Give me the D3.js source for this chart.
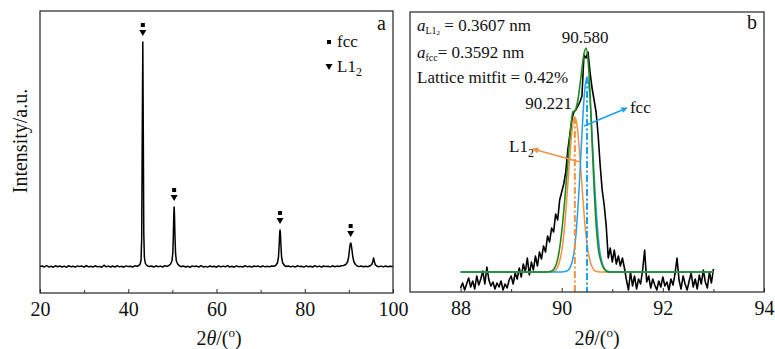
<!DOCTYPE html>
<html>
<head>
<meta charset="utf-8">
<script src="https://cdn.jsdelivr.net/npm/d3@7/dist/d3.min.js"></script>
<style>
  body { margin: 0; background: #fff; }
  text { font-family: "Liberation Serif", "Times New Roman", serif; fill: #111; }
</style>
</head>
<body>
<svg id="chart" width="775" height="349"></svg>
<script>
// ---- panel a : full XRD pattern (2theta, intensity a.u.)
const patternA = [
  [20,26.5],[20.5,27],[21,26],[21.5,27.5],[22,26],[22.5,26.8],[23,25.8],[23.5,27.2],[24,26.3],[24.5,27],
  [25,26],[25.5,26.9],[26,25.7],[26.5,27.3],[27,26.2],[27.5,26.8],[28,25.9],[28.5,27.1],[29,26.4],[29.5,26.9],
  [30,25.8],[30.5,27.4],[31,26.1],[31.5,26.7],[32,26],[32.5,27.2],[33,26.3],[33.5,26.6],[34,25.7],[34.5,27.8],
  [35,26.2],[35.5,26.9],[36,26],[36.5,27],[37,25.9],[37.5,27.3],[38,26.1],[38.5,26.8],[39,25.8],[39.5,27.1],
  [40,26.4],[40.5,26.7],[41,26],[41.5,27.2],[42,26.8],
  [42.4,27.5],[42.7,29],[42.9,33],[43.05,55],[43.15,140],[43.3,251],[43.42,150],[43.52,60],[43.65,36],[43.85,30],[44.1,28],[44.4,27],
  [44.8,26.5],[45.3,27],[45.8,26],[46.3,27.2],[46.8,26.3],[47.3,26.9],[47.8,26],[48.3,27.3],[48.8,26.6],[49.2,27.5],
  [49.6,29],[49.9,32],[50.1,40],[50.22,58],[50.32,78],[50.4,86],[50.48,78],[50.58,58],[50.72,40],[50.9,32],[51.2,29],[51.5,27.5],
  [52,26.3],[52.5,27],[53,26],[53.5,26.8],[54,25.7],[54.5,27.1],[55,26.4],[55.5,26.9],[56,26],[56.5,27.3],
  [57,26.1],[57.5,26.6],[58,25.9],[58.5,27],[59,26.3],[59.5,26.8],[60,25.8],[60.5,27.2],[61,26.1],[61.5,26.9],
  [62,26.2],[62.5,27.4],[63,26],[63.5,26.7],[64,25.8],[64.5,27.1],[65,26.3],[65.5,26.6],[66,26],[66.5,27.3],
  [67,26.2],[67.5,26.8],[68,25.9],[68.5,27],[69,26.4],[69.5,26.9],[70,26],[70.5,27.2],[71,26.1],[71.5,26.7],
  [72,26.3],[72.5,27],[73,26.8],
  [73.4,27.5],[73.8,30],[74.05,36],[74.2,48],[74.32,60],[74.4,63],[74.48,60],[74.6,48],[74.75,36],[75,30],[75.4,27.5],
  [75.8,26.5],[76.3,27],[76.8,26.1],[77.3,26.9],[77.8,26],[78.3,27.2],[78.8,26.4],[79.3,26.7],[79.8,25.9],[80.3,27.1],
  [80.8,26.3],[81.3,26.8],[81.8,26],[82.3,27.3],[82.8,26.2],[83.3,26.9],[83.8,26],[84.3,27],[84.8,26.4],[85.3,26.8],
  [85.8,26.1],[86.3,27.2],[86.8,26.3],[87.3,26.9],[87.8,26.5],[88.3,27.2],[88.8,27.5],
  [89.3,28.5],[89.7,31],[89.95,36],[90.15,44],[90.3,49],[90.42,50],[90.55,48],[90.7,43],[90.9,36],[91.15,31],[91.5,28.5],[91.9,27],
  [92.3,26.4],[92.8,27],[93.3,26.2],[93.8,26.8],[94.3,26.3],[94.8,27.2],
  [95.2,28.5],[95.45,32],[95.6,35],[95.75,32],[95.95,28.5],[96.3,27],
  [96.8,26.2],[97.3,26.9],[97.8,26.1],[98.3,27],[98.8,26.3],[99.3,26.8],[100,26.5]
];
const peakTheta = [43.3, 50.4, 74.4, 90.4];
const peakTop = [251, 86, 63, 50];
const ticksA = [20, 40, 60, 80, 100];
const minorA = [30, 50, 70, 90];

// ---- panel b : the (311)/(222) region, raw scan + fitted peaks
const scanStart = 88, scanStep = 0.04;
const scanB = [
  4,9,2,8,14,5,11,3,16,7, 13,21,8,25,12,6,10,3,9,5,
  11,2,8,4,12,16,8,19,13,24, 15,28,20,34,17,30,22,36,26,40,
  33,46,40,56,50,64,60,78,72,92, 100,108,120,142,157,172,180,182,186,190,
  196,237,234,240,220,204,192,180,157,127, 102,87,66,34,44,30,42,28,36,26,
  34,24,12,2,20,6,16,3,13,8, 22,42,10,16,4,13,7,2,11,5,
  15,6,10,2,13,7,18,34,12,3, 16,8,2,11,19,5,13,3,17,8,
  22,10,4,20,9,23
];
const fitTotal = [
  [88,20],[89.7,20],[89.8,21],[89.88,26],[89.94,38],[90,60],[90.06,92],[90.12,130],[90.18,165],[90.22,180],
  [90.27,182],[90.32,192],[90.38,215],[90.44,238],[90.48,244],[90.52,232],[90.56,200],[90.6,150],[90.64,105],
  [90.68,68],[90.72,45],[90.78,30],[90.84,23],[90.92,20],[93,20]
];
const fitL12 = [
  [88,20],[89.76,20],[89.86,21],[89.91,24],[89.96,31],[90.01,44],[90.06,67],[90.11,100],[90.16,135],[90.21,164],
  [90.26,175],[90.31,164],[90.36,135],[90.41,100],[90.46,67],[90.51,44],[90.56,31],[90.61,24],[90.66,21],[90.76,20],[93,20]
];
const fitFcc = [
  [88,20],[90.0,20],[90.1,21],[90.15,23],[90.2,29],[90.25,42],[90.3,69],[90.35,109],[90.4,158],[90.45,199],
  [90.5,215],[90.55,199],[90.6,158],[90.65,109],[90.7,69],[90.75,42],[90.8,29],[90.85,23],[90.9,21],[91,20],[93,20]
];
const centreL12 = [90.26, 175], centreFcc = [90.50, 215];
const arrowFcc = [[90.44, 166], [91.29, 184]];
const arrowL12 = [[90.36, 130], [89.43, 143]];
const ticksB = [88, 90, 92, 94];
const minorB = [89, 91, 93];

const orange = '#f5913e', blue = '#1ea0f0', green = '#22881a';
const svg = d3.select('#chart');

const panelA = { left: 40, top: 11, right: 393, bottom: 293 };
const panelB = { left: 410, top: 12, right: 764, bottom: 292 };

const xA = d3.scaleLinear().domain([20, 100]).range([panelA.left, panelA.right]);
const yA = d3.scaleLinear().domain([0, 282]).range([panelA.bottom, panelA.top]);
const xB = d3.scaleLinear().domain([87, 94]).range([panelB.left, panelB.right]);
const yB = d3.scaleLinear().domain([0, 280]).range([panelB.bottom, panelB.top]);

const defs = svg.append('defs');
function clip(id, p) {
  defs.append('clipPath').attr('id', id).append('rect')
    .attr('x', p.left).attr('y', p.top).attr('width', p.right - p.left).attr('height', p.bottom - p.top);
}
clip('clipA', panelA);
clip('clipB', panelB);

function arrowHead(id, col) {
  defs.append('marker').attr('id', id).attr('viewBox', '0 0 10 10')
    .attr('refX', 9).attr('refY', 5).attr('markerWidth', 7).attr('markerHeight', 6)
    .attr('markerUnits', 'userSpaceOnUse').attr('orient', 'auto')
    .append('path').attr('d', 'M0,0L10,5L0,10z').attr('fill', col);
}
arrowHead('headBlue', blue);
arrowHead('headOrange', orange);

function drawAxis(p, x, major, minor) {
  const g = svg.append('g').attr('transform', `translate(0,${p.bottom})`);
  g.call(d3.axisBottom(x).tickValues(major).tickFormat(d3.format('d'))
    .tickSizeInner(-4).tickSizeOuter(0).tickPadding(9));
  g.select('.domain').remove();
  g.selectAll('line').attr('stroke', '#333');
  g.selectAll('text').attr('font-size', 20).attr('font-family', '"Liberation Serif", serif').attr('fill', '#111');
  const m = svg.append('g').attr('transform', `translate(0,${p.bottom})`);
  m.call(d3.axisBottom(x).tickValues(minor).tickSizeInner(-3).tickSizeOuter(0).tickFormat(''));
  m.select('.domain').remove();
  m.selectAll('line').attr('stroke', '#333');
}

function frame(p) {
  svg.append('rect').attr('x', p.left).attr('y', p.top)
    .attr('width', p.right - p.left).attr('height', p.bottom - p.top)
    .attr('fill', 'none').attr('stroke', '#222').attr('stroke-width', 1.2);
}

function xTitle(cx) {
  const t = svg.append('text').attr('x', cx).attr('y', 345).attr('text-anchor', 'middle').attr('font-size', 20);
  t.append('tspan').text('2');
  t.append('tspan').attr('font-style', 'italic').text('θ');
  t.append('tspan').text('/(');
  t.append('tspan').attr('font-size', 13).attr('dy', -8).text('o');
  t.append('tspan').attr('dy', 8).text(')');
}

// ---------- panel a
const lineA = d3.line().x(d => xA(d[0])).y(d => yA(d[1]));
svg.append('path').datum(patternA).attr('clip-path', 'url(#clipA)')
  .attr('d', lineA).attr('fill', 'none').attr('stroke', '#000').attr('stroke-width', 1.5)
  .attr('stroke-linejoin', 'round');

peakTheta.forEach((t, i) => {
  const px = xA(t), py = yA(peakTop[i]);
  svg.append('rect').attr('x', px - 2).attr('y', py - 19).attr('width', 4).attr('height', 4).attr('fill', '#000');
  svg.append('path').attr('d', `M${px - 3.5},${py - 12}L${px + 3.5},${py - 12}L${px},${py - 6}Z`).attr('fill', '#000');
});

svg.append('rect').attr('x', 327).attr('y', 40).attr('width', 4).attr('height', 4).attr('fill', '#000');
svg.append('text').attr('x', 337).attr('y', 47).attr('font-size', 17).text('fcc');
svg.append('path').attr('d', 'M325.5,64L332.5,64L329,70Z').attr('fill', '#000');
const lg = svg.append('text').attr('x', 337).attr('y', 72).attr('font-size', 17);
lg.append('tspan').text('L1');
lg.append('tspan').attr('font-size', 12).attr('dy', 4).text('2');
svg.append('text').attr('x', 377).attr('y', 30).attr('font-size', 20).text('a');

drawAxis(panelA, xA, ticksA, minorA);
frame(panelA);
xTitle(219);
svg.append('text').attr('transform', 'translate(27,141) rotate(-90)')
  .attr('text-anchor', 'middle').attr('font-size', 20).text('Intensity/a.u.');

// ---------- panel b
const lineB = d3.line().x(d => xB(d[0])).y(d => yB(d[1]));
const smoothB = d3.line().x(d => xB(d[0])).y(d => yB(d[1])).curve(d3.curveMonotoneX);
const gB = svg.append('g').attr('clip-path', 'url(#clipB)');

gB.append('path').datum(scanB.map((v, i) => [scanStart + i * scanStep, v]))
  .attr('d', lineB).attr('fill', 'none').attr('stroke', '#000').attr('stroke-width', 1.6)
  .attr('stroke-linejoin', 'round');
gB.append('path').datum(fitL12).attr('d', smoothB).attr('fill', 'none').attr('stroke', orange).attr('stroke-width', 1.5);
gB.append('path').datum(fitFcc).attr('d', smoothB).attr('fill', 'none').attr('stroke', blue).attr('stroke-width', 1.5);
gB.append('path').datum(fitTotal).attr('d', smoothB).attr('fill', 'none').attr('stroke', green).attr('stroke-width', 1.6);

[[centreL12, orange], [centreFcc, blue]].forEach(([c, col]) => {
  gB.append('line').attr('x1', xB(c[0])).attr('x2', xB(c[0]))
    .attr('y1', yB(c[1])).attr('y2', yB(0))
    .attr('stroke', col).attr('stroke-width', 2).attr('stroke-dasharray', '7,2.5,2,2.5');
});

svg.append('line').attr('x1', xB(arrowFcc[0][0])).attr('y1', yB(arrowFcc[0][1]))
  .attr('x2', xB(arrowFcc[1][0])).attr('y2', yB(arrowFcc[1][1]))
  .attr('stroke', blue).attr('stroke-width', 1.4).attr('marker-end', 'url(#headBlue)');
svg.append('line').attr('x1', xB(arrowL12[0][0])).attr('y1', yB(arrowL12[0][1]))
  .attr('x2', xB(arrowL12[1][0])).attr('y2', yB(arrowL12[1][1]))
  .attr('stroke', orange).attr('stroke-width', 1.4).attr('marker-end', 'url(#headOrange)');

svg.append('text').attr('x', xB(arrowFcc[1][0]) + 3).attr('y', 113).attr('font-size', 17).text('fcc');
const l2 = svg.append('text').attr('x', 509).attr('y', 152).attr('font-size', 17);
l2.append('tspan').text('L1');
l2.append('tspan').attr('font-size', 12).attr('dy', 5).text('2');

svg.append('text').attr('x', 585).attr('y', 43).attr('text-anchor', 'middle').attr('font-size', 17).text('90.580');
svg.append('text').attr('x', 572).attr('y', 109).attr('text-anchor', 'end').attr('font-size', 17).text('90.221');

const t1 = svg.append('text').attr('x', 417).attr('y', 31).attr('font-size', 17);
t1.append('tspan').attr('font-style', 'italic').text('a');
t1.append('tspan').attr('font-size', 10).attr('dy', 3).text('L1');
t1.append('tspan').attr('font-size', 7).attr('dy', 1).text('2');
t1.append('tspan').attr('dy', -4).text(' = 0.3607 nm');
const t2 = svg.append('text').attr('x', 417).attr('y', 58).attr('font-size', 17);
t2.append('tspan').attr('font-style', 'italic').text('a');
t2.append('tspan').attr('font-size', 10).attr('dy', 3).text('fcc');
t2.append('tspan').attr('dy', -3).text('= 0.3592 nm');
svg.append('text').attr('x', 417).attr('y', 83).attr('font-size', 17).text('Lattice mitfit = 0.42%');
svg.append('text').attr('x', 747).attr('y', 29).attr('font-size', 20).text('b');

drawAxis(panelB, xB, ticksB, minorB);
frame(panelB);
xTitle(597);
</script>
</body>
</html>
